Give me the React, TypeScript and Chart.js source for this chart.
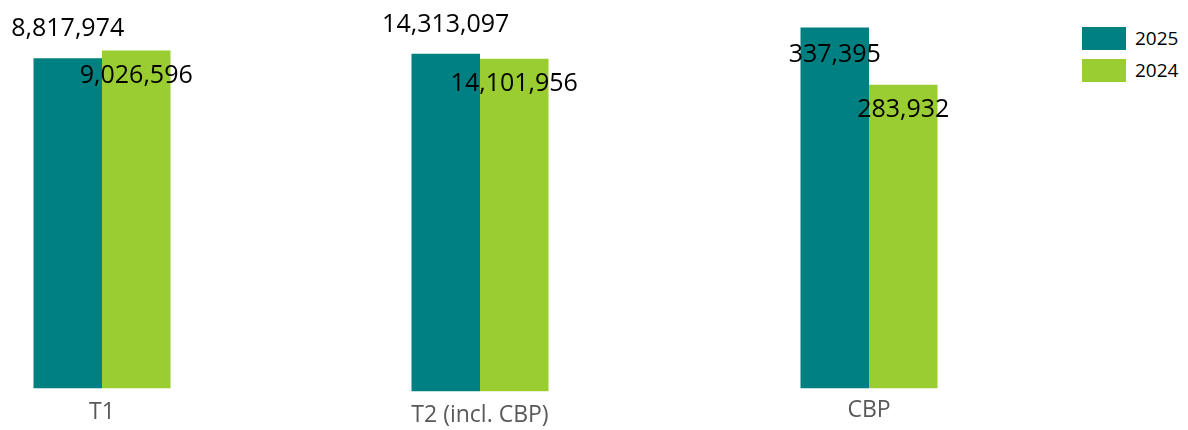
import React, { useEffect, useRef } from "react";
import { Chart, registerables } from "chart.js";

Chart.register(...registerables);

const categories = ["T1", "T2 (incl. CBP)", "CBP"];
const seriesNames = ["2025", "2024"];
const series2025 = [8817974, 14313097, 337395];
const series2024 = [9026596, 14101956, 283932];
const axisMax = [10000000, 16000000, 350000];

const COLORS = ["#008080", "#9ACD32"];
const FONT = "'Open Sans', 'Noto Sans', sans-serif";

const PANEL_W = 260;
const CANVAS_H = 450;
const panelLeft = [-28, 350, 739];
const panelBottomPad = [14, 11, 18];
const tickPad = [10, 10, 8];

const dataLabelPlugin = {
  id: "dataLabels",
  afterDatasetsDraw(chart: any) {
    const ctx = chart.ctx;
    ctx.save();
    ctx.font = `25px ${FONT}`;
    ctx.fillStyle = "#000000";
    ctx.textAlign = "center";
    ctx.textBaseline = "middle";
    chart.data.datasets.forEach((ds: any, di: number) => {
      const meta = chart.getDatasetMeta(di);
      meta.data.forEach((el: any, i: number) => {
        const v = ds.data[i] as number;
        const text = v.toLocaleString("en-US");
        let y = el.y + 25.5;
        if (di === 0) {
          y = el.y - 29;
          if (y - 13 < 0) y = el.y + 27;
        }
        ctx.fillText(text, el.x, y);
      });
    });
    ctx.restore();
  },
};

function Panel({ index }: { index: number }) {
  const ref = useRef<HTMLCanvasElement>(null);
  useEffect(() => {
    if (!ref.current) return;
    const chart = new Chart(ref.current, {
      type: "bar",
      data: {
        labels: [categories[index]],
        datasets: [
          {
            label: seriesNames[0],
            data: [series2025[index]],
            backgroundColor: COLORS[0],
            categoryPercentage: 137 / PANEL_W,
            barPercentage: 1,
          },
          {
            label: seriesNames[1],
            data: [series2024[index]],
            backgroundColor: COLORS[1],
            categoryPercentage: 137 / PANEL_W,
            barPercentage: 1,
          },
        ],
      },
      options: {
        responsive: false,
        animation: false,
        layout: { padding: { top: 14, bottom: panelBottomPad[index], left: 0, right: 0 } },
        plugins: {
          legend: { display: false },
          tooltip: { enabled: false },
        },
        scales: {
          x: {
            grid: { display: false, drawTicks: false },
            border: { display: false },
            ticks: {
              color: "#595959",
              font: { family: FONT, size: 23 },
              padding: tickPad[index],
            },
          },
          y: {
            display: false,
            min: 0,
            max: axisMax[index],
          },
        },
      },
      plugins: [dataLabelPlugin],
    });
    return () => chart.destroy();
  }, [index]);
  return (
    <div
      style={{
        position: "absolute",
        left: panelLeft[index],
        top: 0,
        width: PANEL_W,
        height: 430,
        overflow: "hidden",
      }}
    >
      <canvas ref={ref} width={PANEL_W} height={CANVAS_H} style={{ display: "block" }} />
    </div>
  );
}

export default function App() {
  return (
    <div style={{ position: "absolute", left: 0, top: 0, width: 1188, height: 430, overflow: "hidden" }}>
      {categories.map((_, i) => (
        <Panel key={i} index={i} />
      ))}
      <div style={{ position: "absolute", left: 1082, top: 27, fontFamily: FONT, fontSize: 19, color: "#000" }}>
        {seriesNames.map((n, i) => (
          <div key={n} style={{ display: "flex", alignItems: "center", height: 23, marginBottom: 9 }}>
            <span style={{ display: "inline-block", width: 44, height: 23, background: COLORS[i], marginRight: 9 }} />
            <span style={{ lineHeight: "23px" }}>{n}</span>
          </div>
        ))}
      </div>
    </div>
  );
}
